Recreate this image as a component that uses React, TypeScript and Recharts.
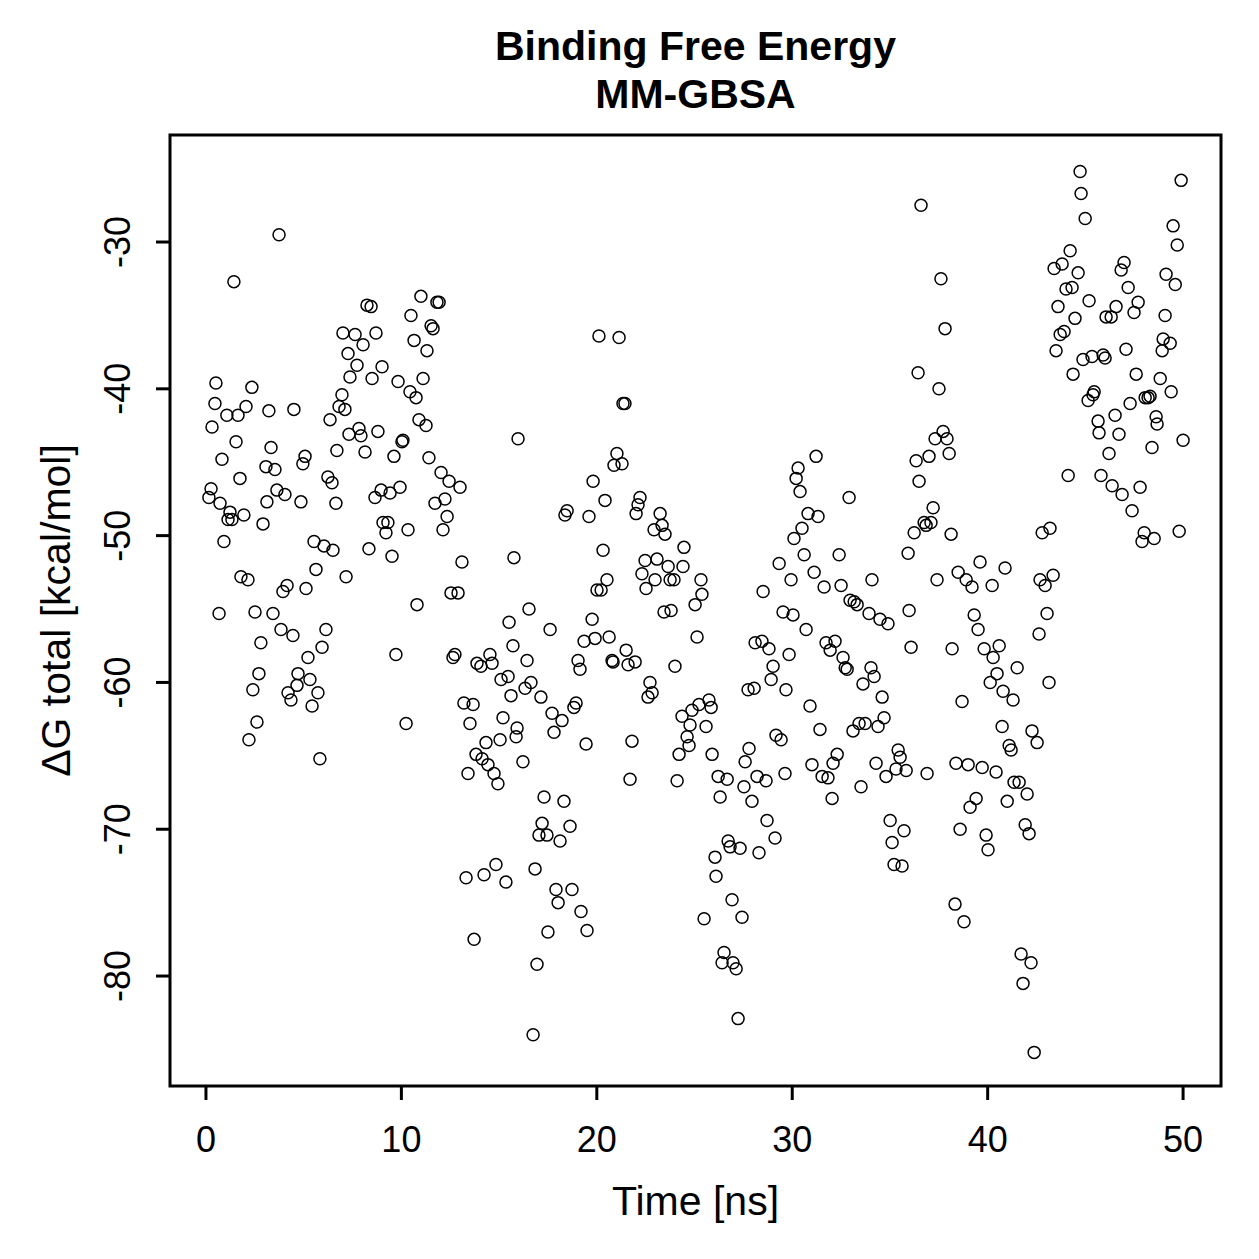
import React from 'react';
import { ScatterChart, Scatter, XAxis, YAxis, ReferenceArea } from 'recharts';

// Time [ns]
const times = [
  0.15, 0.26, 0.31, 0.46, 0.51, 0.67, 0.72, 0.82, 0.92, 1.07, 1.13, 1.23, 1.33, 1.43, 1.54, 1.64, 1.74, 1.79, 1.94, 2.05,
  2.15, 2.2, 2.35, 2.4, 2.51, 2.61, 2.71, 2.81, 2.92, 3.07, 3.12, 3.22, 3.33, 3.43, 3.53, 3.63, 3.74, 3.84, 3.94, 4.04,
  4.15, 4.2, 4.35, 4.45, 4.5, 4.66, 4.71, 4.86, 4.96, 5.07, 5.12, 5.22, 5.32, 5.43, 5.53, 5.63, 5.73, 5.83, 5.94, 6.04,
  6.14, 6.24, 6.35, 6.45, 6.5, 6.65, 6.7, 6.81, 6.96, 7.01, 7.11, 7.17, 7.27, 7.32, 7.37, 7.63, 7.73, 7.83, 7.93, 8.04,
  8.14, 8.24, 8.34, 8.45, 8.5, 8.65, 8.7, 8.8, 8.96, 9.01, 9.06, 9.21, 9.31, 9.42, 9.52, 9.62, 9.72, 9.83, 9.93, 10.03,
  10.08, 10.24, 10.34, 10.44, 10.49, 10.65, 10.75, 10.8, 10.9, 11.0, 11.11, 11.26, 11.31, 11.41, 11.52, 11.62, 11.72, 11.82, 11.93, 12.03,
  12.13, 12.23, 12.34, 12.44, 12.54, 12.64, 12.74, 12.9, 13.0, 13.1, 13.2, 13.31, 13.41, 13.51, 13.67, 13.72, 13.82, 13.87, 14.07, 14.13,
  14.23, 14.33, 14.43, 14.53, 14.64, 14.74, 14.84, 14.94, 15.05, 15.1, 15.2, 15.35, 15.46, 15.51, 15.61, 15.71, 15.76, 15.87, 15.92, 15.97,
  16.22, 16.33, 16.43, 16.53, 16.63, 16.74, 16.84, 16.94, 17.04, 17.14, 17.2, 17.3, 17.45, 17.5, 17.61, 17.71, 17.81, 17.91, 18.02, 18.12,
  18.22, 18.32, 18.37, 18.48, 18.63, 18.73, 18.83, 18.94, 19.04, 19.14, 19.19, 19.35, 19.45, 19.5, 19.6, 19.76, 19.81, 19.91, 20.01, 20.11,
  20.22, 20.32, 20.42, 20.52, 20.63, 20.78, 20.83, 20.88, 21.03, 21.14, 21.29, 21.34, 21.44, 21.5, 21.6, 21.7, 21.8, 21.96, 22.01, 22.11,
  22.21, 22.31, 22.47, 22.52, 22.62, 22.72, 22.83, 22.93, 22.98, 23.08, 23.24, 23.34, 23.44, 23.49, 23.65, 23.75, 23.8, 23.95, 24.0, 24.11,
  24.21, 24.36, 24.41, 24.46, 24.62, 24.72, 24.77, 24.87, 25.03, 25.13, 25.23, 25.33, 25.38, 25.49, 25.59, 25.74, 25.85, 25.9, 26.05, 26.1,
  26.21, 26.31, 26.41, 26.51, 26.67, 26.72, 26.82, 26.92, 26.97, 27.13, 27.23, 27.33, 27.43, 27.53, 27.59, 27.74, 27.79, 27.94, 28.05, 28.1,
  28.2, 28.3, 28.45, 28.51, 28.66, 28.71, 28.81, 28.92, 29.02, 29.12, 29.17, 29.33, 29.43, 29.53, 29.63, 29.68, 29.84, 29.94, 30.04, 30.09,
  30.2, 30.3, 30.4, 30.5, 30.61, 30.71, 30.81, 30.91, 31.01, 31.12, 31.22, 31.32, 31.42, 31.53, 31.63, 31.73, 31.83, 31.94, 32.04, 32.09,
  32.19, 32.3, 32.4, 32.5, 32.6, 32.71, 32.81, 32.91, 32.96, 33.11, 33.17, 33.32, 33.42, 33.52, 33.62, 33.73, 33.93, 34.03, 34.08, 34.19,
  34.29, 34.39, 34.49, 34.6, 34.7, 34.8, 34.9, 35.01, 35.11, 35.21, 35.31, 35.42, 35.52, 35.62, 35.72, 35.83, 35.93, 35.98, 36.08, 36.24,
  36.34, 36.44, 36.49, 36.59, 36.75, 36.85, 36.9, 37.0, 37.1, 37.21, 37.31, 37.41, 37.51, 37.61, 37.72, 37.82, 37.92, 38.03, 38.13, 38.18,
  38.33, 38.38, 38.49, 38.59, 38.69, 38.79, 38.9, 39.0, 39.1, 39.2, 39.31, 39.41, 39.51, 39.61, 39.72, 39.82, 39.92, 40.02, 40.13, 40.23,
  40.28, 40.43, 40.48, 40.59, 40.74, 40.79, 40.89, 41.0, 41.1, 41.2, 41.3, 41.35, 41.51, 41.61, 41.71, 41.81, 41.92, 42.02, 42.12, 42.27,
  42.22, 42.38, 42.53, 42.63, 42.68, 42.79, 42.94, 43.04, 43.14, 43.19, 43.35, 43.4, 43.5, 43.6, 43.71, 43.81, 43.91, 44.01, 44.12, 44.22,
  44.32, 44.37, 44.47, 44.63, 44.73, 44.78, 44.88, 44.99, 45.14, 45.19, 45.34, 45.39, 45.45, 45.65, 45.7, 45.8, 45.91, 46.01, 46.06, 46.21,
  46.32, 46.37, 46.52, 46.57, 46.72, 46.83, 46.88, 46.98, 47.08, 47.19, 47.29, 47.39, 47.49, 47.6, 47.7, 47.8, 47.9, 48.01, 48.06, 48.21,
  48.31, 48.41, 48.52, 48.62, 48.67, 48.83, 48.93, 48.98, 49.08, 49.13, 49.34, 49.39, 49.49, 49.6, 49.7, 49.8, 49.9, 50.0,
];

// ΔG total [kcal/mol]
const deltaG = [
  -47.4, -46.8, -42.6, -41.0, -39.6, -55.3, -47.8, -44.8, -50.4, -41.8, -48.9, -48.4, -48.9, -32.7, -43.6, -41.8, -46.1, -52.8, -48.6, -41.2,
  -53.0, -63.9, -39.9, -60.5, -55.2, -62.7, -59.4, -57.3, -49.2, -45.3, -47.7, -41.5, -44.0, -55.3, -45.5, -46.9, -29.5, -56.4, -53.8, -47.2,
  -53.4, -60.7, -61.2, -56.8, -41.4, -60.2, -59.4, -47.7, -45.1, -44.6, -53.6, -58.3, -59.8, -61.6, -50.4, -52.3, -60.7, -65.2, -57.6, -50.7,
  -56.4, -46.0, -42.1, -46.4, -51.0, -47.8, -44.2, -41.2, -40.4, -36.2, -41.4, -52.8, -37.6, -43.1, -39.2, -36.3, -38.4, -42.7, -43.2, -37.0,
  -44.3, -34.3, -50.9, -34.4, -39.3, -47.4, -36.2, -42.9, -46.9, -38.5, -49.1, -49.8, -49.1, -47.1, -51.4, -44.6, -58.1, -39.5, -46.7, -43.6,
  -43.5, -62.8, -49.6, -40.2, -35.0, -36.7, -40.6, -54.7, -42.1, -33.7, -39.3, -42.5, -37.4, -44.7, -35.7, -35.9, -47.8, -34.1, -34.1, -45.7,
  -49.6, -47.5, -48.7, -46.3, -53.9, -58.3, -58.1, -53.9, -46.7, -51.8, -61.4, -73.3, -66.2, -62.8, -61.5, -77.5, -64.9, -58.7, -58.9, -65.2,
  -73.1, -64.1, -65.6, -58.1, -58.7, -66.2, -72.4, -66.9, -63.9, -59.8, -62.4, -73.6, -59.6, -55.9, -60.9, -57.5, -51.5, -63.7, -63.1, -43.4,
  -65.4, -60.4, -58.5, -55.0, -60.0, -84.0, -72.7, -79.2, -70.4, -61.0, -69.6, -67.8, -70.4, -77.0, -56.4, -62.1, -63.4, -74.1, -75.0, -70.8,
  -62.6, -68.1, -48.6, -48.3, -69.8, -74.1, -61.7, -61.4, -58.5, -59.1, -75.6, -57.2, -64.2, -76.9, -48.7, -55.7, -46.3, -57.0, -53.7, -36.4,
  -53.7, -51.0, -47.6, -53.0, -56.9, -58.5, -58.6, -45.2, -44.4, -36.5, -45.1, -41.0, -41.0, -57.8, -58.8, -66.6, -64.0, -58.6, -48.5, -47.9,
  -47.4, -52.6, -51.7, -53.6, -61.0, -60.0, -60.7, -49.6, -53.0, -51.6, -48.5, -49.3, -55.2, -49.9, -52.1, -53.0, -55.1, -53.0, -58.9, -66.7,
  -64.9, -62.3, -52.1, -50.8, -63.7, -64.3, -62.9, -61.9, -54.7, -56.9, -61.5, -53.0, -54.0, -76.1, -63.0, -61.2, -61.7, -64.9, -71.9, -73.2,
  -66.4, -67.8, -79.1, -78.4, -66.6, -70.8, -71.2, -74.8, -79.1, -79.5, -82.9, -71.3, -76.0, -67.1, -65.4, -60.5, -64.5, -68.1, -60.4, -57.3,
  -66.4, -71.6, -57.2, -53.8, -66.7, -69.4, -57.7, -59.8, -58.9, -70.6, -63.6, -51.9, -63.9, -55.2, -66.2, -60.5, -58.1, -53.0, -55.4, -50.2,
  -46.1, -45.4, -47.0, -49.5, -51.3, -56.4, -48.5, -61.6, -65.6, -52.5, -44.6, -48.7, -63.2, -66.4, -53.5, -57.3, -66.5, -57.8, -67.9, -65.5,
  -57.2, -64.9, -51.3, -53.4, -58.3, -59.0, -59.1, -47.4, -54.4, -63.3, -54.5, -54.7, -62.8, -67.1, -60.1, -62.8, -55.3, -59.0, -53.0, -59.6,
  -65.5, -63.0, -55.7, -61.0, -62.4, -66.4, -56.0, -69.4, -70.9, -72.4, -65.9, -64.6, -65.1, -72.5, -70.1, -66.0, -51.2, -55.1, -57.6, -49.8,
  -44.9, -38.9, -46.3, -27.5, -49.1, -49.3, -66.2, -44.6, -49.1, -48.1, -43.4, -53.0, -40.0, -32.5, -42.9, -35.9, -43.4, -44.4, -49.9, -57.7,
  -75.1, -65.5, -52.5, -70.0, -61.3, -76.3, -53.0, -65.6, -68.5, -53.5, -55.4, -67.9, -56.4, -51.8, -65.8, -57.7, -70.4, -71.4, -60.0, -53.4,
  -58.3, -66.1, -59.4, -57.5, -63.0, -60.6, -52.2, -68.1, -64.3, -64.6, -61.2, -66.8, -59.0, -66.8, -78.5, -80.5, -69.7, -67.6, -70.3, -63.3,
  -79.1, -85.2, -64.1, -56.7, -53.0, -49.8, -53.4, -55.3, -60.0, -49.5, -52.7, -31.8, -37.4, -34.4, -36.3, -31.5, -36.1, -33.2, -45.9, -30.6,
  -33.1, -39.0, -35.2, -32.1, -25.2, -26.7, -38.0, -28.4, -40.8, -34.0, -37.8, -40.4, -40.2, -42.2, -43.0, -45.9, -37.7, -37.9, -35.1, -44.4,
  -35.1, -46.6, -41.8, -34.4, -43.1, -31.9, -47.2, -31.4, -37.3, -33.1, -41.0, -48.3, -34.8, -39.0, -34.1, -46.7, -50.4, -49.8, -40.6, -40.6,
  -40.5, -44.0, -50.2, -41.9, -42.4, -39.3, -37.4, -36.6, -35.0, -32.2, -36.9, -40.2, -28.9, -32.9, -30.2, -49.7, -25.8, -43.5,
];

const xTicks = [0, 10, 20, 30, 40, 50];
const yTicks = [-80, -70, -60, -50, -40, -30];
const xDomain: [number, number] = [-1.84, 51.94];
const yDomain: [number, number] = [-87.49, -22.71];

const titleLines = ['Binding Free Energy', 'MM-GBSA'];
const xLabel = 'Time [ns]';
const yLabel = '\u0394G total [kcal/mol]';

const data = times.map((t, i) => ({ t, g: deltaG[i] }));

const FONT = '"Liberation Sans", Arial, Helvetica, sans-serif';

const XTick = (props: any) => (
  <text x={props.x} y={props.y + 52} textAnchor="middle" fontFamily={FONT} fontSize={36} fill="#000">
    {String(props.payload.value)}
  </text>
);

const YTick = (props: any) => {
  const x = props.x - 26;
  const y = props.y;
  return (
    <text x={x} y={y} transform={`rotate(-90, ${x}, ${y})`} textAnchor="middle" fontFamily={FONT} fontSize={36} fill="#000">
      {String(props.payload.value)}
    </text>
  );
};

const Ring = (props: any) => (
  <circle cx={props.cx} cy={props.cy} r={6} fill="none" stroke="#000" strokeWidth={1.5} />
);

const W = 1243;
const H = 1243;

export default function App() {
  return (
    <div style={{ position: 'relative', width: W, height: H, background: '#fff' }}>
      <ScatterChart width={W} height={H} margin={{ top: 127, right: 30, bottom: 0, left: 0 }}>
        <XAxis
          type="number"
          dataKey="t"
          domain={xDomain}
          allowDataOverflow
          ticks={xTicks}
          interval={0}
          height={165}
          tickSize={14}
          tickMargin={0}
          axisLine={false}
          tickLine={{ stroke: '#000', strokeWidth: 3 }}
          tick={XTick}
          label={{
            content: () => (
              <text x={687.5} y={1207} textAnchor="middle" fontFamily={FONT} fontSize={41} fill="#000">
                {xLabel}
              </text>
            ),
          }}
        />
        <YAxis
          type="number"
          dataKey="g"
          domain={yDomain}
          allowDataOverflow
          ticks={yTicks}
          interval={0}
          width={162}
          tickSize={14}
          tickMargin={0}
          axisLine={false}
          tickLine={{ stroke: '#000', strokeWidth: 3 }}
          tick={YTick}
          label={{
            content: () => (
              <text
                x={62}
                y={602.5}
                transform="rotate(-90, 62, 602.5)"
                textAnchor="middle"
                fontFamily={FONT}
                fontSize={41}
                fill="#000"
              >
                {yLabel}
              </text>
            ),
          }}
        />
        <ReferenceArea
          x1={xDomain[0]}
          x2={xDomain[1]}
          y1={yDomain[0]}
          y2={yDomain[1]}
          fill="none"
          fillOpacity={0}
          stroke="#000"
          strokeWidth={3}
          ifOverflow="visible"
        />
        <Scatter data={data} shape={Ring} isAnimationActive={false} />
      </ScatterChart>
      <svg width={W} height={130} style={{ position: 'absolute', left: 0, top: 0, pointerEvents: 'none' }}>
        <text x={687.5} y={52} textAnchor="middle" fontFamily={FONT} fontSize={41} fontWeight="bold" fill="#000">
          {titleLines[0]}
        </text>
        <text x={687.5} y={100} textAnchor="middle" fontFamily={FONT} fontSize={41} fontWeight="bold" fill="#000">
          {titleLines[1]}
        </text>
      </svg>
    </div>
  );
}
